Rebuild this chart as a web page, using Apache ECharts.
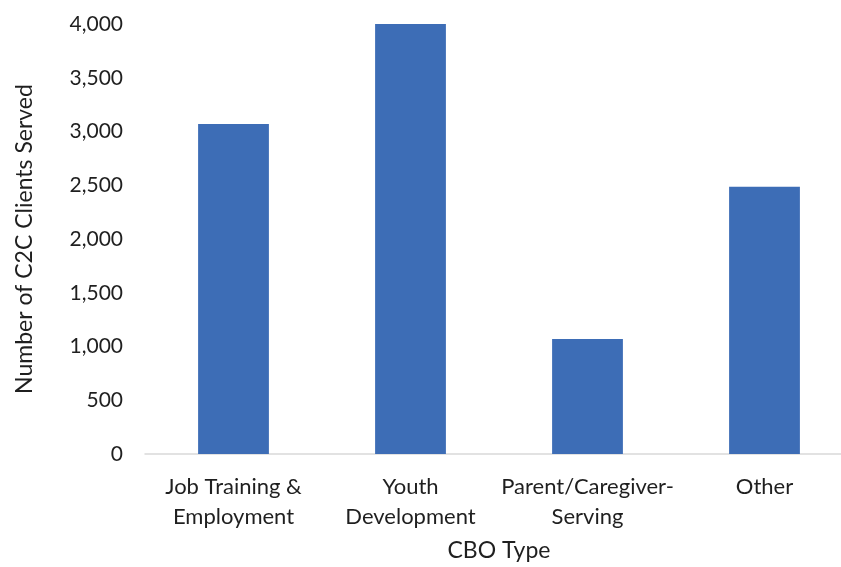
<!DOCTYPE html>
<html>
<head>
<meta charset="utf-8">
<script src="https://cdn.jsdelivr.net/npm/echarts@6/dist/echarts.min.js"></script>
<style>
  html, body { margin: 0; padding: 0; background: #fff; overflow: hidden; }
  #chart { width: 841px; height: 567px; }
</style>
</head>
<body>
<div id="chart"></div>
<script>
// CBO types and the number of C2C clients each type served
const categories = ['Job Training &\nEmployment', 'Youth\nDevelopment', 'Parent/Caregiver-\nServing', 'Other'];
const clientsServed = [3070, 4010, 1070, 2485];

const FONT = 'Lato, "Open Sans", sans-serif';
const TEXT = '#1f1f1f';

const chart = echarts.init(document.getElementById('chart'));
chart.setOption({
  animation: false,
  grid: { left: 145, right: -12, top: 24, bottom: 113, outerBoundsMode: 'none', containLabel: false },
  xAxis: {
    type: 'category',
    data: categories,
    name: 'CBO Type',
    nameLocation: 'middle',
    nameGap: 85,
    nameTextStyle: { fontFamily: FONT, fontSize: 23, color: TEXT },
    axisLine: { lineStyle: { color: '#d9d9d9', width: 1.5 } },
    axisTick: { show: false },
    axisLabel: {
      fontFamily: FONT, fontSize: 22, color: TEXT,
      lineHeight: 30, margin: 18, interval: 0
    }
  },
  yAxis: {
    type: 'value',
    min: 0, max: 4000, interval: 500,
    name: 'Number of C2C Clients Served',
    nameLocation: 'middle',
    nameGap: 109,
    nameTextStyle: { fontFamily: FONT, fontSize: 23, color: TEXT },
    axisLine: { show: false },
    axisTick: { show: false },
    splitLine: { show: false },
    axisLabel: {
      fontFamily: FONT, fontSize: 21, color: TEXT, margin: 22,
      formatter: v => v.toLocaleString('en-US')
    }
  },
  series: [{
    type: 'bar',
    data: clientsServed,
    barWidth: '40%',
    itemStyle: { color: '#3d6db6' }
  }]
});
</script>
</body>
</html>
